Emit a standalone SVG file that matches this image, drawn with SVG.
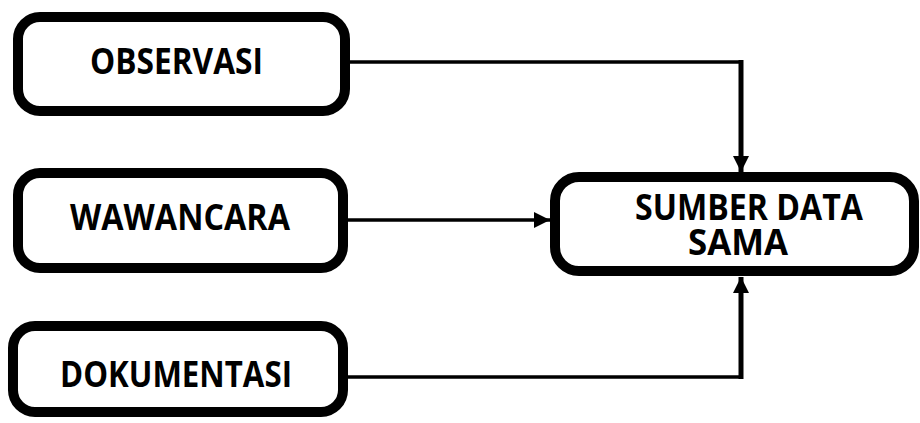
<svg xmlns="http://www.w3.org/2000/svg" width="920" height="423" viewBox="0 0 920 423">
<style>
.box{fill:#fff;stroke:#000;stroke-width:10}
.lbl{font-family:"Open Sans","Liberation Sans",sans-serif;font-weight:bold;font-size:35px;fill:#000}
.ln{fill:none;stroke:#000;stroke-width:3.5}
.lv{fill:none;stroke:#000;stroke-width:5}
</style>
<defs>
<marker id="ah" viewBox="0 0 10 10" refX="10" refY="5" markerWidth="16" markerHeight="16" markerUnits="userSpaceOnUse" orient="auto">
<path d="M0,0 L10,5 L0,10 Z" fill="#000"/>
</marker>
</defs>
<g id="connectors">
<path class="ln" d="M348,62 H741"/>
<path class="lv" d="M741,60 V172" marker-end="url(#ah)"/>
<path class="ln" d="M348,220 H550" marker-end="url(#ah)"/>
<path class="ln" d="M346,377 H741"/>
<path class="lv" d="M741,379 V277" marker-end="url(#ah)"/>
</g>
<g id="observasi">
<rect class="box" x="18" y="17" width="327" height="94" rx="22"/>
<text class="lbl" x="90" y="74" textLength="173" lengthAdjust="spacingAndGlyphs">OBSERVASI</text>
</g>
<g id="wawancara">
<rect class="box" x="18" y="173" width="325" height="95" rx="22"/>
<text class="lbl" x="70" y="230" textLength="220" lengthAdjust="spacingAndGlyphs">WAWANCARA</text>
</g>
<g id="sumber">
<rect class="box" x="555" y="177" width="359" height="94" rx="24"/>
<text class="lbl" x="635" y="220" textLength="228" lengthAdjust="spacingAndGlyphs">SUMBER DATA</text>
<text class="lbl" x="688" y="255" textLength="100" lengthAdjust="spacingAndGlyphs">SAMA</text>
</g>
<g id="dokumentasi">
<rect class="box" x="13" y="326" width="330" height="86" rx="22"/>
<text class="lbl" x="60" y="387" textLength="232" lengthAdjust="spacingAndGlyphs">DOKUMENTASI</text>
</g>
</svg>
